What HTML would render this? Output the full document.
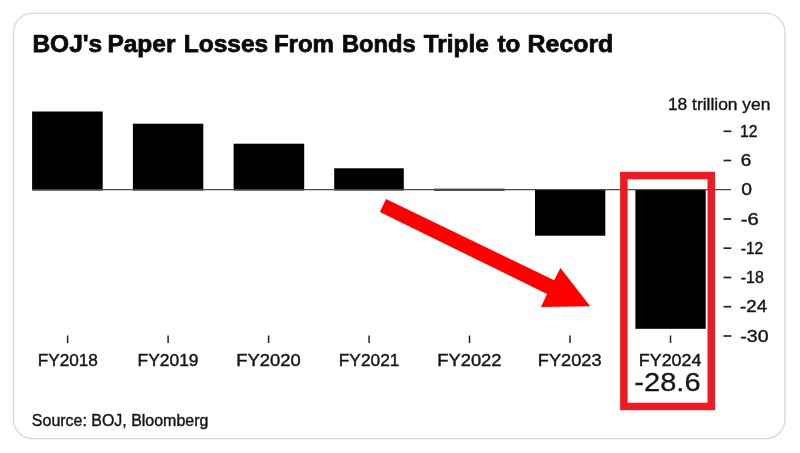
<!DOCTYPE html>
<html>
<head>
<meta charset="utf-8">
<style>
html,body{margin:0;padding:0;background:#fff;}
body{width:800px;height:453px;position:relative;overflow:hidden;font-family:"Liberation Sans",sans-serif;}
svg{position:absolute;left:0;top:0;display:block;will-change:transform;}
text{font-family:"Liberation Sans",sans-serif;fill:#161616;stroke:#161616;stroke-width:0.4px;paint-order:stroke;}
.ti{font-weight:bold;font-size:24.3px;fill:#0a0a0a;stroke:#0a0a0a;stroke-width:0.75px;}
.ax{font-size:16.3px;}
.big{font-size:25.4px;stroke-width:0.3px;}
.src{font-size:15.8px;}
</style>
</head>
<body>
<svg width="800" height="453" viewBox="0 0 800 453">
  <rect x="0" y="0" width="800" height="453" fill="#ffffff"/>
  <!-- card -->
  <rect x="13.5" y="13.3" width="771.5" height="425.3" rx="19" ry="19" fill="#fff" stroke="#d5d7d8" stroke-width="1.3"/>

  <!-- bars -->
  <g fill="#000">
    <rect x="32.1" y="111.5" width="70.6" height="79"/>
    <rect x="132.9" y="123.7" width="70.4" height="66.8"/>
    <rect x="233.6" y="143.7" width="70.6" height="46.8"/>
    <rect x="334.2" y="168.3" width="69.6" height="22.2"/>
    <rect x="434" y="188.7" width="70.5" height="2" fill="#0a0a0a"/>
    <rect x="535" y="189" width="70.3" height="46.7"/>
    <rect x="635.4" y="189" width="70.3" height="139.8"/>
  </g>
  <!-- zero line -->
  <line x1="32" y1="189.7" x2="731" y2="189.7" stroke="#4a4a4a" stroke-width="1.3"/>

  <!-- x ticks -->
  <g stroke="#222" stroke-width="1.5">
    <line x1="67.6" y1="335.5" x2="67.6" y2="343"/>
    <line x1="168.1" y1="335.5" x2="168.1" y2="343"/>
    <line x1="268.6" y1="335.5" x2="268.6" y2="343"/>
    <line x1="369.1" y1="335.5" x2="369.1" y2="343"/>
    <line x1="469.5" y1="335.5" x2="469.5" y2="343"/>
    <line x1="570" y1="335.5" x2="570" y2="343"/>
    <line x1="670.5" y1="335.5" x2="670.5" y2="343"/>
  </g>
  <!-- y ticks -->
  <g stroke="#222" stroke-width="1.7">
    <line x1="723.5" y1="131.3" x2="731.3" y2="131.3"/>
    <line x1="723.5" y1="160.5" x2="731.3" y2="160.5"/>
    <line x1="723.5" y1="219.0" x2="731.3" y2="219.0"/>
    <line x1="723.5" y1="248.2" x2="731.3" y2="248.2"/>
    <line x1="723.5" y1="277.5" x2="731.3" y2="277.5"/>
    <line x1="723.5" y1="306.7" x2="731.3" y2="306.7"/>
    <line x1="723.5" y1="336.0" x2="731.3" y2="336.0"/>
  </g>

  <!-- arrow -->
  <polygon fill="#fe0000" points="386.0,199.05 554.2,280.3 560.4,268.0 590.2,306.2 541.0,307.1 547.0,294.0 379.9,211.9"/>
  <!-- highlight box -->
  <rect x="623.85" y="175.55" width="87.4" height="230.9" fill="none" stroke="#ec1c24" stroke-width="7.5"/>

  <g id="txt">
  <text class="ti" x="32.40" y="51.6" textLength="69.82" lengthAdjust="spacingAndGlyphs">BOJ's</text>
  <text class="ti" x="107.40" y="51.6" textLength="68.03" lengthAdjust="spacingAndGlyphs">Paper</text>
  <text class="ti" x="183.84" y="51.6" textLength="84.30" lengthAdjust="spacingAndGlyphs">Losses</text>
  <text class="ti" x="273.91" y="51.6" textLength="60.07" lengthAdjust="spacingAndGlyphs">From</text>
  <text class="ti" x="341.90" y="51.6" textLength="73.91" lengthAdjust="spacingAndGlyphs">Bonds</text>
  <text class="ti" x="423.78" y="51.6" textLength="64.98" lengthAdjust="spacingAndGlyphs">Triple</text>
  <text class="ti" x="497.55" y="51.6" textLength="22.85" lengthAdjust="spacingAndGlyphs">to</text>
  <text class="ti" x="527.58" y="51.6" textLength="85.71" lengthAdjust="spacingAndGlyphs">Record</text>
  <text class="ax" x="667.95" y="109.7" textLength="102.45" lengthAdjust="spacingAndGlyphs">18 trillion yen</text>
  <text class="ax" x="740.09" y="136.8" textLength="17.54" lengthAdjust="spacingAndGlyphs">12</text>
  <text class="ax" x="740.87" y="166.0" textLength="10.53" lengthAdjust="spacingAndGlyphs">6</text>
  <text class="ax" x="741.20" y="195.3" textLength="10.75" lengthAdjust="spacingAndGlyphs">0</text>
  <text class="ax" x="740.66" y="224.6" textLength="18.07" lengthAdjust="spacingAndGlyphs">-6</text>
  <text class="ax" x="740.70" y="253.8" textLength="22.58" lengthAdjust="spacingAndGlyphs">-12</text>
  <text class="ax" x="740.63" y="283.1" textLength="23.19" lengthAdjust="spacingAndGlyphs">-18</text>
  <text class="ax" x="740.11" y="312.3" textLength="26.91" lengthAdjust="spacingAndGlyphs">-24</text>
  <text class="ax" x="740.35" y="341.6" textLength="28.26" lengthAdjust="spacingAndGlyphs">-30</text>
  <text class="ax" x="37.65" y="365.8" textLength="60.28" lengthAdjust="spacingAndGlyphs">FY2018</text>
  <text class="ax" x="137.56" y="365.8" textLength="61.02" lengthAdjust="spacingAndGlyphs">FY2019</text>
  <text class="ax" x="236.20" y="365.8" textLength="64.49" lengthAdjust="spacingAndGlyphs">FY2020</text>
  <text class="ax" x="338.80" y="365.8" textLength="60.60" lengthAdjust="spacingAndGlyphs">FY2021</text>
  <text class="ax" x="437.21" y="365.8" textLength="64.35" lengthAdjust="spacingAndGlyphs">FY2022</text>
  <text class="ax" x="537.82" y="365.8" textLength="63.76" lengthAdjust="spacingAndGlyphs">FY2023</text>
  <text class="ax" x="638.80" y="365.8" textLength="62.59" lengthAdjust="spacingAndGlyphs">FY2024</text>
  <text class="big" x="634.38" y="391.3" textLength="66.15" lengthAdjust="spacingAndGlyphs">-28.6</text>
  <text class="src" x="31.88" y="425.5" textLength="176.46" lengthAdjust="spacingAndGlyphs">Source: BOJ, Bloomberg</text>
  </g>
</svg>
</body>
</html>
